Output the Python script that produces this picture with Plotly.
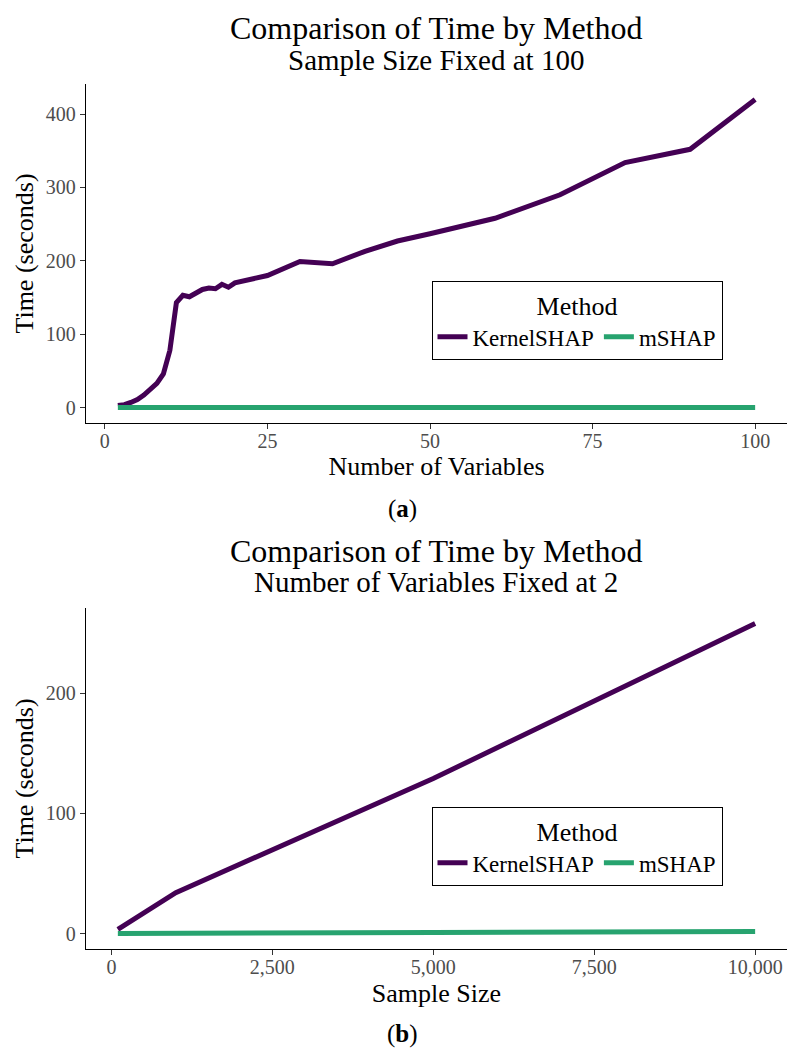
import plotly.graph_objects as go

# ---------------- data ----------------
n_vars = [2, 3, 4, 5, 6, 7, 8, 9, 10, 11, 12, 13, 14, 15, 16, 17, 18, 19, 20,
          25, 30, 35, 40, 45, 50, 60, 70, 80, 90, 100]
kernel_a = [3, 4, 7, 11, 17, 24, 33, 46, 78, 143, 153, 151, 156, 161, 163, 162, 168, 164, 170,
            180, 199, 196, 213, 227, 237, 258, 290, 334, 352, 420]
mshap_a = [0.1, 0.1, 0.1, 0.1, 0.1, 0.1, 0.1, 0.1, 0.1, 0.1, 0.1, 0.1, 0.1, 0.1, 0.1, 0.1, 0.1, 0.1, 0.1,
           0.1, 0.1, 0.1, 0.1, 0.1, 0.1, 0.1, 0.1, 0.2, 0.2, 0.2]

sample_size = [100, 1000, 5000, 10000]
kernel_b = [3.5, 34, 129, 258]
mshap_b = [0.05, 0.3, 0.8, 1.6]

ticks_a_x = [0, 25, 50, 75, 100]
ticks_a_y = [0, 100, 200, 300, 400]
ticks_b_x = [0, 2500, 5000, 7500, 10000]
ticks_b_y = [0, 100, 200]

FONT = "Liberation Serif"
PURPLE = "#440154"
GREEN = "#27A36F"
W, H = 787, 1050

fig = go.Figure()
fig.add_trace(go.Scatter(x=n_vars, y=kernel_a, mode="lines", name="KernelSHAP",
                         line=dict(color=PURPLE, width=5), xaxis="x", yaxis="y", legend="legend"))
fig.add_trace(go.Scatter(x=n_vars, y=mshap_a, mode="lines", name="mSHAP",
                         line=dict(color=GREEN, width=5), xaxis="x", yaxis="y", legend="legend"))
fig.add_trace(go.Scatter(x=sample_size, y=kernel_b, mode="lines", name="KernelSHAP",
                         line=dict(color=PURPLE, width=5), xaxis="x2", yaxis="y2", legend="legend2"))
fig.add_trace(go.Scatter(x=sample_size, y=mshap_b, mode="lines", name="mSHAP",
                         line=dict(color=GREEN, width=5), xaxis="x2", yaxis="y2", legend="legend2"))

def px_y(p):
    return 1 - p / H

axis_common = dict(showline=True, linecolor="black", linewidth=1.3, mirror=False,
                   ticks="outside", ticklen=5, tickwidth=1.1, tickcolor="#333333",
                   tickfont=dict(family=FONT, size=20, color="#4D4D4D"),
                   showgrid=False, zeroline=False, automargin=False)
title_font = dict(family=FONT, size=26, color="black")
xdom = [86 / W, 1.0]

legend_common = dict(xanchor="center", yanchor="middle", orientation="h",
                     bordercolor="black", borderwidth=1, bgcolor="white",
                     font=dict(family=FONT, size=23, color="black"), itemwidth=30,
                     title=dict(text="Method", side="top center",
                                font=dict(family=FONT, size=26, color="black")))

fig.update_layout(
    width=W, height=H, margin=dict(l=0, r=0, t=0, b=0),
    plot_bgcolor="white", paper_bgcolor="white",
    font=dict(family=FONT, color="black"),
    xaxis=dict(domain=xdom, range=[-2.9, 104.9], tickvals=ticks_a_x, anchor="y", ticklabelstandoff=-5,
               title=dict(text="Number of Variables", font=title_font, standoff=4), **axis_common),
    yaxis=dict(domain=[px_y(423), px_y(84)], range=[-21, 441], tickvals=ticks_a_y, anchor="x",
               title=dict(text="Time (seconds)", font=title_font, standoff=4), **axis_common),
    xaxis2=dict(domain=xdom, range=[-395, 10495], tickvals=ticks_b_x, tickformat=",", anchor="y2",
                ticklabelstandoff=-5,
                title=dict(text="Sample Size", font=title_font, standoff=6), **axis_common),
    yaxis2=dict(domain=[px_y(949), px_y(608)], range=[-12.9, 270.9], tickvals=ticks_b_y, anchor="x2",
                title=dict(text="Time (seconds)", font=title_font, standoff=4), **axis_common),
    legend=dict(x=577 / W, y=px_y(320), **legend_common),
    legend2=dict(x=577 / W, y=px_y(846), **legend_common),
)

cx = 436 / W
annos = [
    ("Comparison of Time by Method", 28, 32),
    ("Sample Size Fixed at 100", 60, 29),
    ("(<b>a</b>)", 509, 25),
    ("Comparison of Time by Method", 551, 32),
    ("Number of Variables Fixed at 2", 582, 29),
    ("(<b>b</b>)", 1034, 25),
]
for text, ypx, size in annos:
    xx = cx if not text.startswith("(") else 402 / W
    fig.add_annotation(text=text, x=xx, y=px_y(ypx), xref="paper", yref="paper",
                       xanchor="center", yanchor="middle", showarrow=False,
                       font=dict(family=FONT, size=size, color="black"))

fig.write_html("out.html")
